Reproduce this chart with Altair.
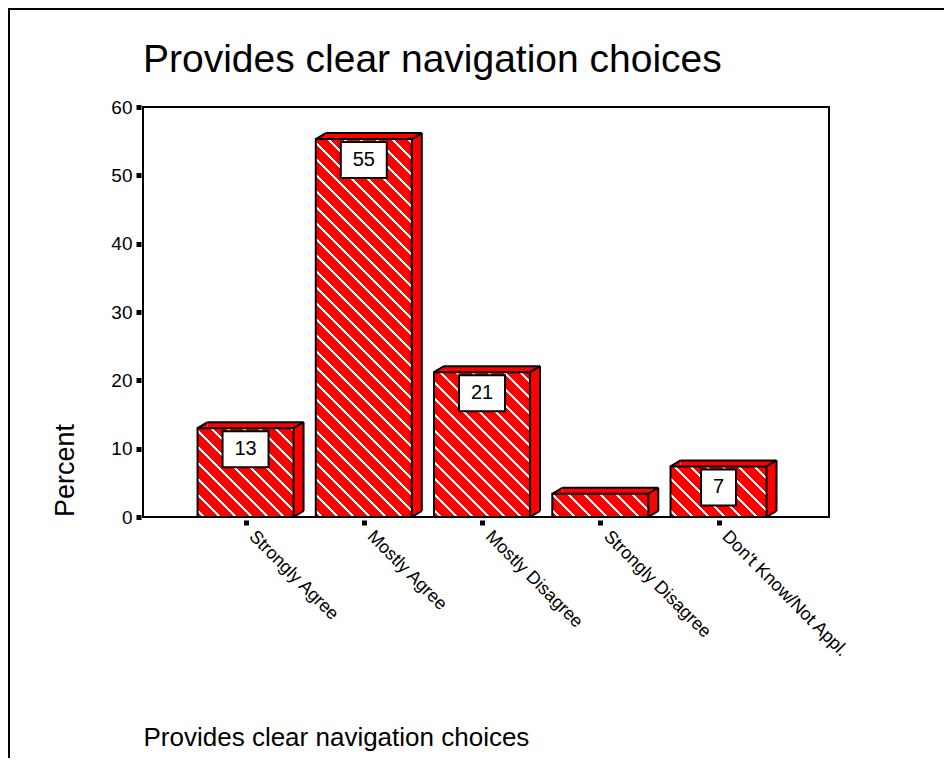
import altair as alt
import pandas as pd

# ---------------- data ----------------
categories = ["Strongly Agree", "Mostly Agree", "Mostly Disagree",
              "Strongly Disagree", "Don't Know/Not Appl."]
percents = [13.0, 55.3, 21.2, 3.4, 7.4]
bar_labels = ["13", "55", "21", "", "7"]
y_ticks = [0, 10, 20, 30, 40, 50, 60]
chart_title = "Provides clear navigation choices"
x_title = "Provides clear navigation choices"
y_title = "Percent"

df = pd.DataFrame({
    "idx": list(range(len(categories))),
    "category": categories,
    "pct": percents,
    "label": bar_labels,
})

# ---------------- style ----------------
W, H = 686, 410
Y_MAX = 60
X_DOMAIN = [-0.825, 4.892]
BAR_W = 96
DX, DY = 10, 6
RED = "#ff0000"
FONT = "Liberation Sans"

xscale = alt.Scale(domain=X_DOMAIN, nice=False, zero=False)
yscale = alt.Scale(domain=[0, Y_MAX], nice=False)

label_expr = "[" + ",".join("'" + c.replace("'", "\\'") + "'" for c in categories) + "][datum.value]"

x_axis = alt.Axis(
    values=list(range(len(categories))), labelExpr=label_expr,
    domain=False, grid=False, offset=3,
    ticks=True, tickSize=5, tickWidth=5, tickColor="black",
    labelAngle=45, labelAlign="left", labelBaseline="top",
    labelPadding=2, labelOffset=12, labelFontSize=18, labelColor="black",
    labelFont=FONT, labelOverlap=False,
    title=x_title, titleFont=FONT, titleFontSize=26, titleFontWeight="normal",
    titleColor="black", titleX=0, titleY=225, titleAlign="left",
    titleBaseline="alphabetic", titleAnchor="start",
)
y_axis = alt.Axis(
    values=y_ticks, domain=False, grid=False, offset=2,
    ticks=True, tickSize=5, tickWidth=5, tickColor="black",
    labelFontSize=19, labelPadding=4, labelColor="black", labelFont=FONT,
    title=y_title, titleFont=FONT, titleFontSize=27, titleFontWeight="normal",
    titleColor="black", titleAngle=270, titleX=-76, titleY=363,
    titleAlign="center", titleBaseline="middle",
)

x_enc = alt.X("idx:Q", scale=xscale, axis=x_axis)
y_enc = alt.Y("pct:Q", scale=yscale, axis=y_axis)
y_zero = alt.Y(datum=0, type="quantitative", scale=yscale, axis=y_axis)
y2_zero = alt.Y2(datum=0)

base = alt.Chart(df)


def stripe_fill(h_px, w_px=BAR_W, period=16, white=3.2, phase=5):
    L = w_px + h_px
    s = L / (w_px ** 2 + h_px ** 2)
    stops = [{"offset": 0, "color": RED}]
    u = phase
    while u < L:
        a = round(u / L, 5)
        b = round(min((u + white) / L, 1), 5)
        stops += [{"offset": a, "color": RED}, {"offset": a, "color": "white"},
                  {"offset": b, "color": "white"}, {"offset": b, "color": RED}]
        u += period
    stops.append({"offset": 1, "color": RED})
    return {"gradient": "linear", "stops": stops,
            "x1": 0, "y1": 1, "x2": round(w_px * s, 5), "y2": round(1 - h_px * s, 5)}


# depth (side + top faces)
back = base.mark_bar(orient="vertical", width=BAR_W, xOffset=DX, yOffset=-DY,
                     y2Offset=-DY, fill=RED, strokeWidth=0).encode(
    x=x_enc, y=y_enc, y2=y2_zero)
tri_top = base.mark_point(shape="M0 0 L2 -1.2 L2 0 Z", size=100, filled=True,
                          fill=RED, strokeWidth=0, opacity=1,
                          xOffset=-BAR_W / 2).encode(x=x_enc, y=y_enc)
tri_bot = base.mark_point(shape="M0 0 L0 -1.2 L2 -1.2 Z", size=100, filled=True,
                          fill=RED, strokeWidth=0, opacity=1,
                          xOffset=BAR_W / 2).encode(x=x_enc, y=y_zero)

# front faces, hatched
fronts = []
for i, v in enumerate(percents):
    h_px = v / Y_MAX * H
    fronts.append(
        base.transform_filter(alt.datum.idx == i).mark_bar(
            orient="vertical", width=BAR_W, fill=stripe_fill(h_px),
            stroke="black", strokeWidth=2).encode(x=x_enc, y=y_enc, y2=y2_zero)
    )

edge = dict(stroke="black", strokeWidth=2)
top_edge = base.mark_rule(xOffset=-BAR_W / 2 + DX, x2Offset=BAR_W / 2 + DX,
                          yOffset=-DY, **edge).encode(x=x_enc, x2=alt.X2("idx:Q"), y=y_enc)
right_edge = base.mark_rule(xOffset=BAR_W / 2 + DX, yOffset=-DY, y2Offset=-DY,
                            **edge).encode(x=x_enc, y=y_enc, y2=y2_zero)
diag_tl = base.mark_rule(xOffset=-BAR_W / 2, x2Offset=-BAR_W / 2 + DX, yOffset=0,
                         y2Offset=-DY, **edge).encode(
    x=x_enc, x2=alt.X2("idx:Q"), y=y_enc, y2=alt.Y2("pct:Q"))
diag_tr = base.mark_rule(xOffset=BAR_W / 2, x2Offset=BAR_W / 2 + DX, yOffset=0,
                         y2Offset=-DY, **edge).encode(
    x=x_enc, x2=alt.X2("idx:Q"), y=y_enc, y2=alt.Y2("pct:Q"))
diag_br = base.mark_rule(xOffset=BAR_W / 2, x2Offset=BAR_W / 2 + DX, yOffset=0,
                         y2Offset=-DY, **edge).encode(
    x=x_enc, x2=alt.X2("idx:Q"), y=y_zero, y2=y2_zero)

# value label boxes
lab = base.transform_filter("length(datum.label) > 0").transform_calculate(
    n="length(datum.label)")
box2 = lab.transform_filter("datum.n >= 2").mark_bar(
    orient="vertical", width=46, yOffset=3, y2Offset=39, fill="white",
    stroke="black", strokeWidth=2).encode(x=x_enc, y=y_enc, y2=alt.Y2("pct:Q"))
box1 = lab.transform_filter("datum.n == 1").mark_bar(
    orient="vertical", width=35, yOffset=3, y2Offset=39, fill="white",
    stroke="black", strokeWidth=2).encode(x=x_enc, y=y_enc, y2=alt.Y2("pct:Q"))
txt = lab.mark_text(yOffset=21, baseline="middle", align="center", fontSize=20,
                    font=FONT, color="black").encode(x=x_enc, y=y_enc, text="label:N")

# outer frame lines (top and left edge of the original picture)
one = alt.Chart(pd.DataFrame({"k": [0]}))
frame_left = one.mark_rule(stroke="black", strokeWidth=2).encode(
    x=alt.value(-134), y=alt.value(-98), y2=alt.value(651))
frame_top = one.mark_rule(stroke="black", strokeWidth=2).encode(
    x=alt.value(-135), x2=alt.value(801), y=alt.value(-98))

chart = alt.layer(
    back, tri_top, tri_bot, *fronts, top_edge, right_edge, diag_tl, diag_tr, diag_br,
    box2, box1, txt, frame_left, frame_top,
).properties(
    width=W, height=H,
    autosize=alt.AutoSizeParams(type="none"),
    padding={"left": 135, "top": 99, "right": 115, "bottom": 241},
    background="white",
    title=alt.Title(chart_title, anchor="start", frame="group", fontSize=39,
                    font=FONT, fontWeight="normal", color="black",
                    baseline="alphabetic", offset=0, dy=103),
).configure_view(
    stroke="black", strokeWidth=2
)

chart.save("out.html", embed_options={"renderer": "svg", "actions": False})
